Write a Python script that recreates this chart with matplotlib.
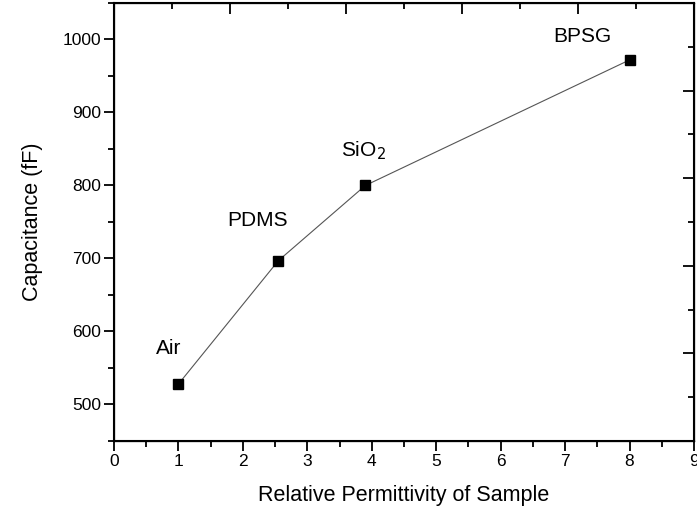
import numpy as np
import matplotlib
matplotlib.use('Agg')
import matplotlib.pyplot as plt
from matplotlib.ticker import MultipleLocator

plt.rcParams['font.family'] = ['Liberation Sans', 'DejaVu Sans']

# data
permittivity = [1.0, 2.55, 3.9, 8.0]
capacitance = [528, 697, 800, 972]
materials = ['Air', 'PDMS', 'SiO$_2$', 'BPSG']
# label offsets from each point, in pixels
label_dx = [-10, -21, -2, -47]
label_dy = [36, 40, 35, 23]

fig = plt.figure(figsize=(6.97, 5.14), dpi=100)
ax = fig.add_axes([114/697, 73/514, 580/697, 438/514])

ax.plot(permittivity, capacitance, color='#555555', lw=0.8, zorder=2)
ax.plot(permittivity, capacitance, 's', color='black', ms=7.5, zorder=3)

for x, y, name, dx, dy in zip(permittivity, capacitance, materials, label_dx, label_dy):
    ax.annotate(name, (x, y), xytext=(dx, dy), textcoords='offset pixels',
                ha='center', va='center', fontsize=15)

ax.set_xlim(0, 9)
ax.set_ylim(450, 1050)
ax.xaxis.set_major_locator(MultipleLocator(1))
ax.xaxis.set_minor_locator(MultipleLocator(0.5))
ax.yaxis.set_major_locator(MultipleLocator(100))
ax.yaxis.set_minor_locator(MultipleLocator(50))
ax.set_yticks(np.arange(500, 1001, 100))
ax.tick_params(which='major', direction='out', length=7, width=1.3, labelsize=12.5, pad=2)
ax.tick_params(which='minor', direction='out', length=4, width=1.3)
ax.set_xlabel('Relative Permittivity of Sample', fontsize=15.5, labelpad=12)
ax.set_ylabel('Capacitance (fF)', fontsize=15.5, labelpad=14)
for s in ax.spines.values():
    s.set_linewidth(1.5)

# top / right axes with their own inward ticks, no labels
axt = ax.twiny()
axt.set_xlim(0, 1)
axt.xaxis.set_major_locator(MultipleLocator(0.2))
axt.xaxis.set_minor_locator(MultipleLocator(0.1))
axt.tick_params(which='both', direction='in', labeltop=False, width=1.3)
axt.tick_params(which='major', length=8)
axt.tick_params(which='minor', length=4)
axr = ax.twinx()
axr.set_ylim(0, 1)
axr.yaxis.set_major_locator(MultipleLocator(0.2))
axr.yaxis.set_minor_locator(MultipleLocator(0.1))
axr.tick_params(which='both', direction='in', labelright=False, width=1.3)
axr.tick_params(which='major', length=8)
axr.tick_params(which='minor', length=4)

fig.savefig('out.png', dpi=100)
